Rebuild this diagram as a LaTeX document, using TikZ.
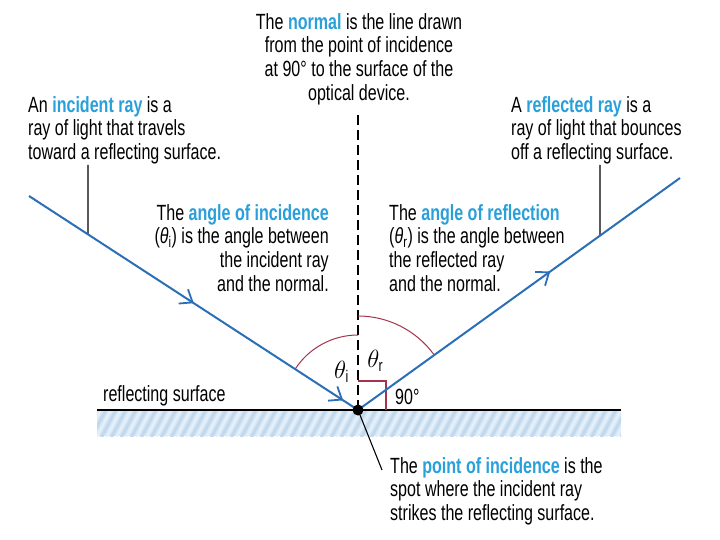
\documentclass[tikz,border=0pt]{standalone}
\usepackage{fontspec}
\setmainfont{Liberation Sans}[FakeStretch=0.73]
\usetikzlibrary{arrows.meta,decorations.markings,calc}
\definecolor{rayblue}{HTML}{2B6FB6}
\definecolor{hlblue}{HTML}{2AA0DA}
\definecolor{arcred}{HTML}{A3344C}
\definecolor{surf}{HTML}{D6E7F6}
\definecolor{stripe}{HTML}{C2D8ED}
\definecolor{stripelight}{HTML}{E6F0FA}
\newcommand{\hlt}[1]{\textcolor{hlblue}{\textbf{#1}}}
\begin{document}
\begin{tikzpicture}[x=1pt,y=-1pt,
  txt/.style={inner sep=0pt, font=\fontsize{22}{23.8}\selectfont},
  ray/.style={rayblue, line width=2pt},
  barb/.style={rayblue, line width=1.8pt},
  leader/.style={black, line width=1.1pt},
  anglemark/.style={arcred, line width=1pt},
  thetalbl/.style={inner sep=0pt, font=\fontsize{24}{26}\selectfont}]
\useasboundingbox (0,0) rectangle (720,540);
\fill[white] (0,0) rectangle (720,540);

% coordinates
\coordinate (P) at (358,410);
\coordinate (Lstart) at (29,196);
\coordinate (Rend) at (680,178);
\coordinate (Ntop) at (358,112);
\coordinate (Sleft) at (97,410);
\coordinate (Sright) at (621,410);

% surface
\begin{scope}
  \clip (97,410) rectangle (621,436);
  \fill[surf] (97,410) rectangle (621,436);
  \foreach \x in {40,50,...,650} {
    \draw[stripe, line width=3pt] (\x,440) -- (\x+18,406);
    \draw[stripelight, line width=2pt] (\x+5,440) -- (\x+23,406);
  }
\end{scope}
\draw[black, line width=1.3pt] (Sleft) -- (Sright);

% normal
\draw[black, line width=1.1pt, dash pattern=on 10pt off 5pt] (P) -- (Ntop);

% angle marks
\draw[anglemark] ($(P)+(0,-75)$) arc[start angle=-90, end angle=-146.7, radius=75];
\draw[anglemark] ($(P)+(0,-94)$) arc[start angle=-90, end angle=-35.8, radius=94];
\draw[anglemark, line width=1.2pt] ($(P)+(0,-29)$) -| ($(P)+(28,0)$);

% leaders
\coordinate (LL) at (88,165);
\coordinate (RL) at (600,165);
\coordinate (PL) at (382,470);
\draw[leader] (LL) -- ($(Lstart)!0.1794!(P)$);
\draw[leader] (RL) -- ($(P)!0.7516!(Rend)$);
\draw[leader] (P) -- (PL);

% rays
\draw[ray, postaction={decorate}, decoration={markings,
   mark=at position 0.501 with {\arrow[barb]{Straight Barb[length=11pt,width=17pt]}},
   mark=at position 0.955 with {\arrow[barb]{Straight Barb[length=11pt,width=17pt]}}}]
   (Lstart) -- (P);
\draw[ray, postaction={decorate}, decoration={markings,
   mark=at position 0.597 with {\arrow[barb]{Straight Barb[length=11pt,width=17pt]}}}]
   (P) -- (Rend);

% point of incidence dot
\fill[black] (P) circle[radius=5.5pt];

% labels
\node[thetalbl] (thi) at (342,372) {$\theta_{\mathrm{i}}$};
\node[thetalbl] (thr) at (376,361) {$\theta_{\mathrm{r}}$};
\node[txt, anchor=base west] (ninety) at (395,404) {90°};
\node[txt, anchor=base west] (surflbl) at (103,401) {reflecting surface};

\node[txt, anchor=north, align=center] (normaltxt) at (359,13)
  {The \hlt{normal} is the line drawn\\from the point of incidence\\at 90° to the surface of the\\optical device.};
\node[txt, anchor=north west, align=left] (inctxt) at (28,96)
  {An \hlt{incident ray} is a\\ray of light that travels\\toward a reflecting surface.};
\node[txt, anchor=north west, align=left] (reftxt) at (511,96)
  {A \hlt{reflected ray} is a\\ray of light that bounces\\off a reflecting surface.};
\node[txt, anchor=north east, align=right] (aoitxt) at (329,204)
  {The \hlt{angle of incidence}\\(\textit{θ}\textsubscript{i}) is the angle between\\the incident ray\\and the normal.};
\node[txt, anchor=north west, align=left] (aortxt) at (389,204)
  {The \hlt{angle of reflection}\\(\textit{θ}\textsubscript{r}) is the angle between\\the reflected ray\\and the normal.};
\node[txt, anchor=north west, align=left] (poitxt) at (390,457)
  {The \hlt{point of incidence} is the\\spot where the incident ray\\strikes the reflecting surface.};
\end{tikzpicture}
\end{document}
